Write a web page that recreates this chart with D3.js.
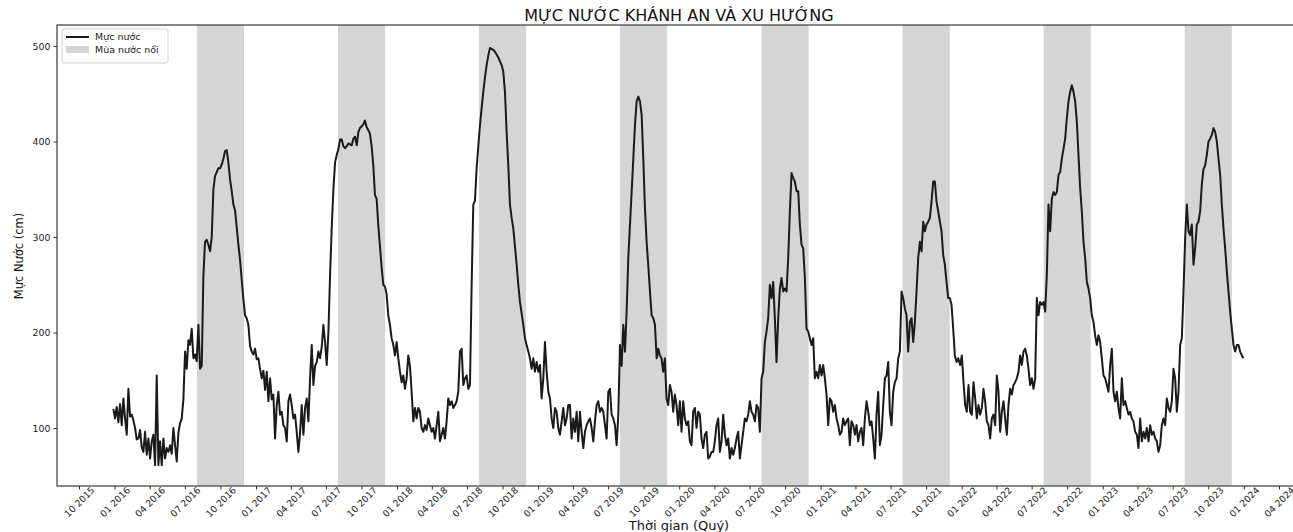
<!DOCTYPE html>
<html><head><meta charset="utf-8">
<script src="https://cdn.jsdelivr.net/npm/d3@7"></script>
<style>body{margin:0;background:#fff}svg{display:block}text{font-family:"DejaVu Sans",sans-serif}</style>
</head><body>
<svg id="chart" width="1293" height="532"></svg>
<script>
// ---------------- data ----------------
const chartTitle = "MỰC NƯỚC KHÁNH AN VÀ XU HƯỚNG";
const xTitle = "Thời gian (Quý)";
const yTitle = "Mực Nước (cm)";
const legendLabels = ["Mực nước", "Mùa nước nổi"];
const yTickValues = [100, 200, 300, 400, 500];
const xTickStart = "2015-10-01";
const xTickEnd = "2024-04-01";
const floodYears = [2016, 2017, 2018, 2019, 2020, 2021, 2022, 2023];
const floodStartMonthDay = [8, 1];   // 1 Aug
const floodEndMonthDay = [12, 1];    // 1 Dec
const stepDays = 4.3125;             // reading interval (days)

// water level readings (cm), each run at a fixed interval from its start date
const run1Start = "2015-12-29";
const run1Levels = [120,110,122,106,125,103,131,110,93,141,
112,114,108,100,88,89,98,80,75,96,
72,89,68,86,93,61,155,61,86,61,
89,68,79,75,82,73,100,82,65,95,
105,110,130,180,162,192,187,204,173,177,
170,208,162,165,260,295,297,292,285,300,
350,364,368,372,372,376,382,390,391,378,
360,348,334,328,310,292,276,255,235,218,
215,208,186,180,177,183,172,173,162,152,
160,140,159,128,152,130,135,89,124,138,
114,117,103,100,86,128,135,124,110,114,
96,75,95,124,93,121,131,107,152,187,
145,165,169,180,173,185,208,190,166,200,
260,310,350,378,386,392,402,402,395,393,
395,398,397,396,403,405,396,410];

const run2Start = "2017-09-27";
const run2Levels = [414,416,418,422,415,412,408,395,375,344,
340,312,290,268,250,248,240,218,208,194,
187,176,190,173,159,148,155,141,152,176,
165,138,107,121,110,121,117,100,96,103,
98,110,103,96,100,89,103,117,86,93,
100,89,107,131,124,128,121,124,128,138,
180,183,145,152,155,141,145,250,334,338,
372,395,417,435,452,467,480,490,498,497,
496,494,491,488,484,480,473,452,410,375,
334,320,309,290,271,250,232,220,208,194,
187,180,173,162,173,159,169,159,166,131,
152,190,159,138,131,110,100,121,117,100,
93,107,121,103,110,124,124,89,110,96,
117,86,117,96,79,96,103,107,110,100,
86,107,124,128,117,121,117,103,89,138,
141,114,110,103,82,114,187,165,208,180,
222,278,313,347,382,417,442,447,442,428,
382,330,295,270,243,218,215,208,173,183];

const run3Start = "2019-11-12";
const run3Levels = [176,173,159,173,131,124,145,138,117,135,
124,103,128,96,128,110,103,107,86,82,
117,121,100,117,114,89,79,93,96,68,
70,75,75,86,103,110,75,86,114,93,
82,89,68,79,72,79,89,96,68,82,
96,110,107,114,128,117,114,107,124,121,
96,152,159,190,201,215,250,236,253,215,
169,215,246,257,243,246,243,278,327,367,
362,358,348,348,313,292,288,257,204,201,
194,187,194,152,159,152,166,155,166,152,
135,103,131,128,117,124,110,103,93,96,
110,103,107,110,82,107,103,93,103,86,
96,100,82,110,128,117,103,107,89,68,
114,138,82,93,124,152,155,169,117,103,
138,148,152,173,180,243,236,225,218,180,
211,215,190,211,243,278,295,285,316,306,
313,316,320,337,358,358,337,327,316,306,
281,271,253,236,236,229,204,176,169,173];

const run4Start = "2021-12-28";
const run4Levels = [166,176,148,124,117,145,117,114,148,131,
110,124,114,121,141,128,107,103,89,110,
114,103,155,138,96,117,128,110,93,124,
141,135,145,148,152,159,176,166,180,183,
176,162,145,152,141,152,236,218,232,229,
232,222,260,334,306,340,347,344,347,365,
368,382,392,403,424,442,452,459,452,442,
421,386,351,327,295,278,253,246,236,218,
211,197,187,197,190,173,155,152,145,138,
166,183,138,128,138,121,110,152,124,128,
121,114,117,110,107,96,93,79,110,86,
96,89,100,86,103,93,96,89,86,75,
82,103,110,103,131,121,117,128,162,152,
117,138,187,194,243,299,334,306,302,313,
271,288,313,316,327,355,371,375,386,400,
403,407,414,410,400,382,365,334,309,288,
264,243,222,204,187,180,187,187,180,176,
173];

// ---------------- build ----------------
const parse = d3.timeParse("%Y-%m-%d");
const DAY = 864e5;
function expand(start, levels) {
  const t0 = parse(start).getTime();
  return levels.map((v, i) => ({ date: new Date(t0 + i * stepDays * DAY), value: v }));
}
const series = [].concat(
  expand(run1Start, run1Levels),
  expand(run2Start, run2Levels),
  expand(run3Start, run3Levels),
  expand(run4Start, run4Levels)
);

const svg = d3.select("#chart");
const W = 1293, H = 532;
const plot = { left: 57, top: 25, right: 1294, bottom: 486 };

const x = d3.scaleTime().domain([parse(xTickStart), parse(xTickEnd)]).range([79, 1279]);
const y = d3.scaleLinear().domain([100, 500]).range([428, 46]);

svg.append("rect").attr("width", W).attr("height", H).attr("fill", "#fff");

svg.append("clipPath").attr("id", "clip").append("rect")
  .attr("x", plot.left).attr("y", plot.top)
  .attr("width", plot.right - plot.left).attr("height", plot.bottom - plot.top);

const g = svg.append("g").attr("clip-path", "url(#clip)");

// flood-season bands
const bandStart = d => new Date(d, floodStartMonthDay[0] - 1, floodStartMonthDay[1]);
const bandEnd = d => new Date(d, floodEndMonthDay[0] - 1, floodEndMonthDay[1]);
g.selectAll("rect.band").data(floodYears).join("rect").attr("class", "band")
  .attr("x", d => x(bandStart(d)))
  .attr("width", d => x(bandEnd(d)) - x(bandStart(d)))
  .attr("y", plot.top).attr("height", plot.bottom - plot.top)
  .attr("fill", "#d5d5d5");

// water level line
const line = d3.line().x(d => x(d.date)).y(d => y(d.value));
g.append("path").datum(series).attr("d", line)
  .attr("fill", "none").attr("stroke", "#1a1a1a").attr("stroke-width", 2)
  .attr("stroke-linejoin", "round");

// frame
svg.append("rect").attr("x", plot.left).attr("y", plot.top)
  .attr("width", plot.right - plot.left).attr("height", plot.bottom - plot.top)
  .attr("fill", "none").attr("stroke", "#3a3a3a").attr("stroke-width", 1.2);

// x axis
const xTicks = d3.timeMonth.every(3).range(parse(xTickStart), d3.timeDay.offset(parse(xTickEnd), 1));
const fmt = d3.timeFormat("%m %Y");
const xAxis = svg.append("g").attr("transform", `translate(0,${plot.bottom})`)
  .call(d3.axisBottom(x).tickValues(xTicks).tickFormat(fmt).tickSize(3.5).tickSizeOuter(0));
xAxis.select(".domain").remove();
xAxis.selectAll(".tick line").attr("stroke", "#333");
xAxis.selectAll(".tick text")
  .attr("y", 0).attr("dy", "0.35em")
  .attr("text-anchor", "middle")
  .attr("transform", "translate(0,16) rotate(-45)")
  .attr("font-size", 9.2).attr("fill", "#1a1a1a")
  .style("font-family", "'DejaVu Sans', sans-serif");

// y axis
const yAxis = svg.append("g").attr("transform", `translate(${plot.left},0)`)
  .call(d3.axisLeft(y).tickValues(yTickValues).tickSize(3.5).tickPadding(3));
yAxis.select(".domain").remove();
yAxis.selectAll(".tick line").attr("stroke", "#333");
yAxis.selectAll(".tick text").attr("font-size", 9.4).attr("fill", "#1a1a1a")
  .style("font-family", "'DejaVu Sans', sans-serif");

// titles
svg.append("text").attr("x", 679).attr("y", 21).attr("text-anchor", "middle")
  .attr("font-size", 16).attr("fill", "#111").text(chartTitle);
svg.append("text").attr("x", 679).attr("y", 530).attr("text-anchor", "middle")
  .attr("font-size", 13).attr("fill", "#111").text(xTitle);
svg.append("text").attr("transform", `translate(23,256) rotate(-90)`).attr("text-anchor", "middle")
  .attr("font-size", 11.5).attr("fill", "#111").text(yTitle);

// legend
const lg = svg.append("g").attr("transform", "translate(62,29)");
lg.append("rect").attr("width", 106).attr("height", 34).attr("rx", 2)
  .attr("fill", "#fff").attr("fill-opacity", 0.85).attr("stroke", "#d0d0d0");
lg.append("line").attr("x1", 4).attr("x2", 27).attr("y1", 8).attr("y2", 8)
  .attr("stroke", "#1a1a1a").attr("stroke-width", 2);
lg.append("rect").attr("x", 4).attr("y", 17).attr("width", 23).attr("height", 7).attr("fill", "#d5d5d5");
lg.selectAll("text.lt").data(legendLabels).join("text").attr("class", "lt")
  .attr("x", 33).attr("y", (d, i) => 8 + i * 13).attr("dy", "0.35em")
  .attr("font-size", 9.5).attr("fill", "#222").text(d => d);
</script>
</body></html>
